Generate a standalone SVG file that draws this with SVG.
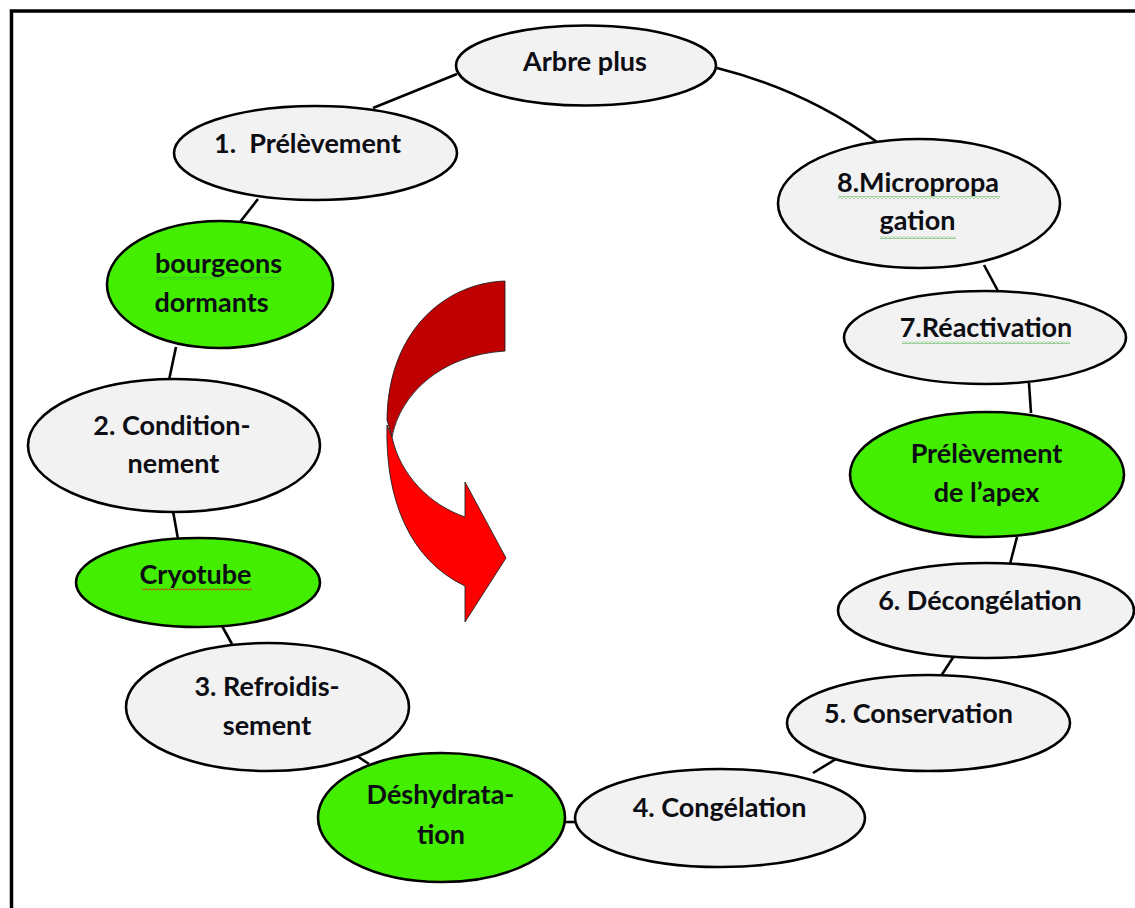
<svg xmlns="http://www.w3.org/2000/svg" width="1135" height="908" viewBox="0 0 1135 908">
<style>
.g{fill:#f2f2f2;stroke:#000;stroke-width:2.6}
.v{fill:#44ee00;stroke:#000;stroke-width:2.6}
.t{font-family:Lato,"Liberation Sans",sans-serif;font-weight:700;font-size:27px;fill:#0d0d14;text-anchor:middle}
.c{fill:none;stroke:#000;stroke-width:2.6}
</style>
<defs>
<pattern id="wg" width="4" height="3" patternUnits="userSpaceOnUse"><path d="M0 2.5 L2 0.5 L4 2.5" fill="none" stroke="#3fae3f" stroke-width="1"/></pattern>
<pattern id="wr" width="4" height="3" patternUnits="userSpaceOnUse"><path d="M0 2.5 L2 0.5 L4 2.5" fill="none" stroke="#e02020" stroke-width="1"/></pattern>
</defs>
<rect width="1135" height="908" fill="#fff"/>
<path d="M11.5 908 V11 H1135" fill="none" stroke="#000" stroke-width="3.5"/>

<g id="arrow">
<path d="M387 425 C385 500 410 560 465 586 L465 622 L506 558 L465 482 L465 517 C430 505 400 475 392 437 Z" fill="#ff0000" stroke="#222" stroke-width="0.9"/>
<path d="M505 281 C446 283 388 330 387 420 L392 437 C400 395 440 355 505 351 Z" fill="#c00000" stroke="#222" stroke-width="0.9"/>
</g>

<g id="connectors">
<line class="c" x1="457" y1="74" x2="373" y2="108"/>
<path class="c" d="M717 68 Q805 90 877 142"/>
<line class="c" x1="258" y1="199" x2="240" y2="222"/>
<line class="c" x1="176" y1="347" x2="169" y2="380"/>
<line class="c" x1="173" y1="511" x2="178" y2="539"/>
<line class="c" x1="222" y1="626" x2="232" y2="644"/>
<line class="c" x1="357" y1="756" x2="369" y2="764"/>
<line class="c" x1="564" y1="822" x2="577" y2="822"/>
<line class="c" x1="813" y1="773" x2="836" y2="759"/>
<line class="c" x1="941" y1="676" x2="954" y2="656"/>
<line class="c" x1="1010" y1="564" x2="1017" y2="537"/>
<line class="c" x1="1031" y1="413" x2="1029" y2="383"/>
<line class="c" x1="998" y1="291" x2="984" y2="265"/>
</g>

<g id="n-arbre"><ellipse class="g" cx="586" cy="65.5" rx="130" ry="40"/><text class="t" x="585" y="71">Arbre plus</text></g>
<g id="n-prelevement"><ellipse class="g" cx="315.5" cy="153" rx="141.5" ry="47"/><text class="t" x="307.5" y="153" xml:space="preserve">1.  Prélèvement</text></g>
<g id="n-bourgeons"><ellipse class="v" cx="220" cy="284.5" rx="113" ry="63.5"/><rect x="156" y="277" width="125" height="3" fill="url(#wg)"/><text class="t" x="218.5" y="273">bourgeons</text><text class="t" x="211.5" y="312">dormants</text></g>
<g id="n-conditionnement"><ellipse class="g" cx="174" cy="445.5" rx="146" ry="66.5"/><text class="t" x="172" y="435">2. Condition-</text><text class="t" x="173.5" y="473">nement</text></g>
<g id="n-cryotube"><ellipse class="v" cx="198" cy="582.5" rx="122" ry="44.5"/><rect x="142" y="588" width="110" height="3" fill="url(#wr)"/><text class="t" x="195.5" y="584">Cryotube</text></g>
<g id="n-refroidissement"><ellipse class="g" cx="267.5" cy="707" rx="141.5" ry="64"/><text class="t" x="267" y="696">3. Refroidis-</text><text class="t" x="267" y="735">sement</text></g>
<g id="n-deshydratation"><ellipse class="v" cx="441.5" cy="817.5" rx="123.5" ry="64.5"/><text class="t" x="440.5" y="804">Déshydrata-</text><text class="t" x="441" y="844">tion</text></g>
<g id="n-congelation"><ellipse class="g" cx="720" cy="818" rx="145" ry="49"/><text class="t" x="719.5" y="817">4. Congélation</text></g>
<g id="n-conservation"><ellipse class="g" cx="928.5" cy="723" rx="141.5" ry="48"/><text class="t" x="918.5" y="723">5. Conservation</text></g>
<g id="n-decongelation"><ellipse class="g" cx="986" cy="610.5" rx="148" ry="47.5"/><text class="t" x="980" y="610">6. Décongélation</text></g>
<g id="n-apex"><ellipse class="v" cx="987" cy="474.5" rx="137" ry="62.5"/><text class="t" x="986.5" y="463">Prélèvement</text><text class="t" x="986.5" y="502">de l’apex</text></g>
<g id="n-reactivation"><ellipse class="g" cx="985" cy="337.5" rx="141" ry="46.5"/><rect x="902" y="341" width="168" height="3" fill="url(#wg)"/><text class="t" x="986" y="337">7.Réactivation</text></g>
<g id="n-micropropagation"><ellipse class="g" cx="919" cy="203.5" rx="141" ry="64.5"/><rect x="838" y="196" width="162" height="3" fill="url(#wg)"/><rect x="880" y="236" width="76" height="3" fill="url(#wg)"/><text class="t" x="918" y="192">8.Micropropa</text><text class="t" x="917.5" y="230">gation</text></g>
</svg>
